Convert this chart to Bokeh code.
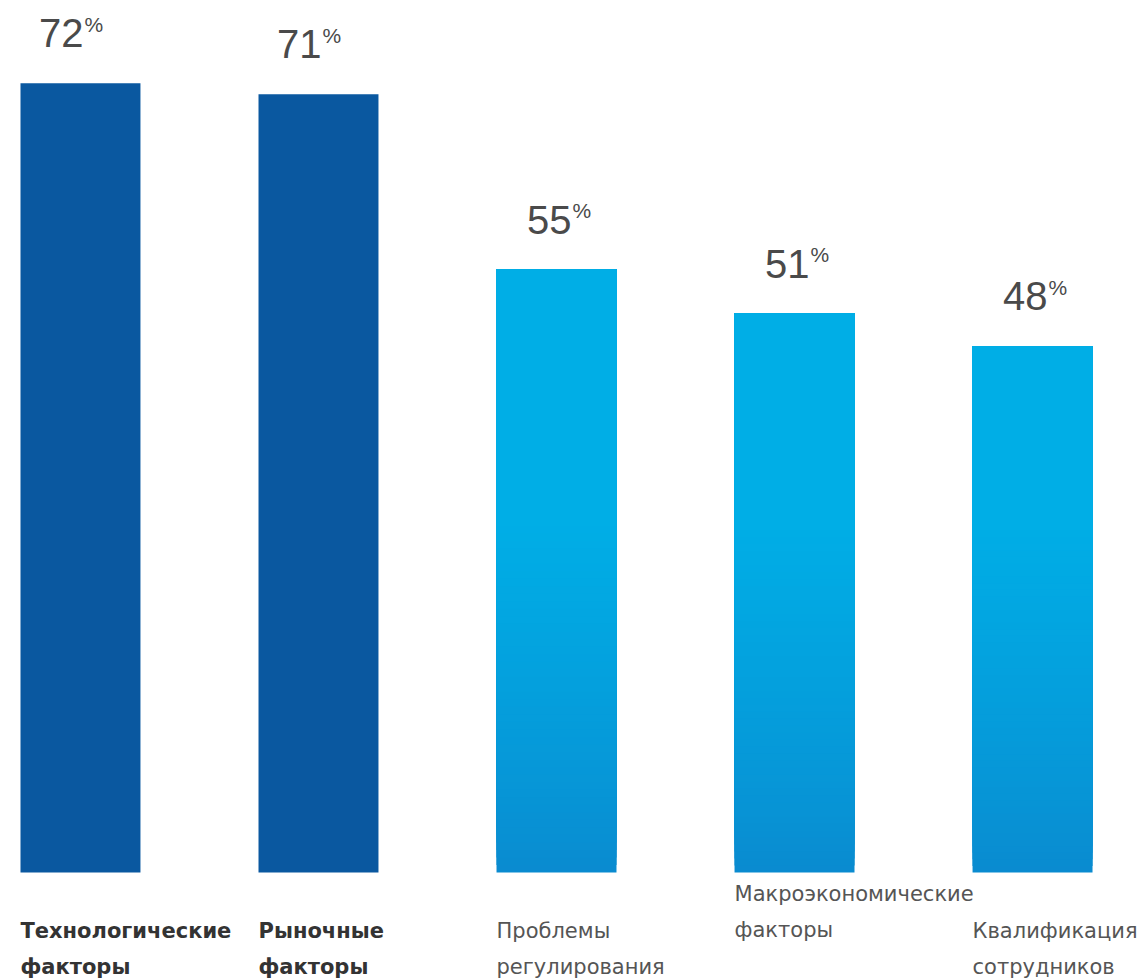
import numpy as np
from bokeh.plotting import figure
from bokeh.models import Range1d, ColumnDataSource
from bokeh.core.properties import value
from bokeh.embed import file_html
from bokeh.resources import INLINE

# ---------------- data ----------------
categories = ["Технологические факторы", "Рыночные факторы", "Проблемы регулирования",
              "Макроэкономические факторы", "Квалификация сотрудников"]
label_line1 = ["Технологические", "Рыночные", "Проблемы", "Макроэкономические", "Квалификация"]
label_line2 = ["факторы", "факторы", "регулирования", "факторы", "сотрудников"]
values = [72, 71, 55, 51, 48]
highlight = [True, True, False, False, False]   # dark-blue group

# ---------------- style ----------------
DARK = "#0a58a0"
LIGHT_TOP = np.array([0x00, 0xae, 0xe6])
LIGHT_BOTTOM = np.array([0x0a, 0x8a, 0xcf])
BAR_W = 0.504

p = figure(width=1147, height=979, output_backend="svg", toolbar_location=None,
           x_range=Range1d(-0.336, 4.483), y_range=Range1d(-9.76, 79.56),
           min_border=0, min_border_left=0, min_border_right=0,
           min_border_top=0, min_border_bottom=0)
p.axis.visible = False
p.grid.visible = False
p.outline_line_color = None
p.background_fill_color = "white"
p.border_fill_color = "white"

idx = list(range(len(categories)))
dark_idx = [i for i in idx if highlight[i]]
light_idx = [i for i in idx if not highlight[i]]

# dark bars
p.vbar(x=dark_idx, top=[values[i] for i in dark_idx], bottom=0, width=BAR_W,
       fill_color=DARK, line_color=None)

# light bars with vertical gradient (overlapping slices of each bar, bottom to top)
GRAD_TOP = 32.0  # value level above which colour is flat
xs, bots, tops, cols = [], [], [], []
for i in light_idx:
    v = values[i]
    n = 80
    edges = np.linspace(0, v, n + 1)
    for k in range(n):
        mid = 0.5 * (edges[k] + edges[k + 1])
        t = min(mid / GRAD_TOP, 1.0) ** 0.8
        c = LIGHT_BOTTOM + (LIGHT_TOP - LIGHT_BOTTOM) * t
        xs.append(i)
        bots.append(edges[k])
        tops.append(v)
        cols.append("#%02x%02x%02x" % tuple(int(round(c_)) for c_ in c))
p.vbar(x=xs, bottom=bots, top=tops, width=BAR_W, fill_color=cols, line_color=None)

# value labels
for group, xoff in ((dark_idx, 3), (light_idx, 15)):
    src = ColumnDataSource(dict(x=group, y=[values[i] for i in group],
                                t=[str(values[i]) for i in group],
                                pc=["%"] * len(group)))
    p.text(x="x", y="y", text="t", source=src, x_offset=xoff, y_offset=-50,
           text_align="right", text_baseline="alphabetic",
           text_font=value("Liberation Sans"), text_font_size="40px",
           text_color="#4a4a4a")
    p.text(x="x", y="y", text="pc", source=src, x_offset=xoff + 1, y_offset=-59,
           text_align="left", text_baseline="alphabetic",
           text_font=value("Liberation Sans"), text_font_size="21px",
           text_color="#4a4a4a")

# category labels
for i in idx:
    lx = i - BAR_W / 2
    up = 37 if label_line1[i] == "Макроэкономические" else 0
    bold = highlight[i]
    kw = dict(text_align="left", text_baseline="alphabetic",
              text_font=value("DejaVu Sans"), text_font_size="21px",
              text_font_style="bold" if bold else "normal",
              text_color="#333333" if bold else "#555555")
    p.text(x=[lx], y=[0], text=[label_line1[i]], y_offset=58 - up, **kw)
    p.text(x=[lx], y=[0], text=[label_line2[i]], y_offset=94 - up, **kw)

open("out.html", "w").write(file_html(p, INLINE))
